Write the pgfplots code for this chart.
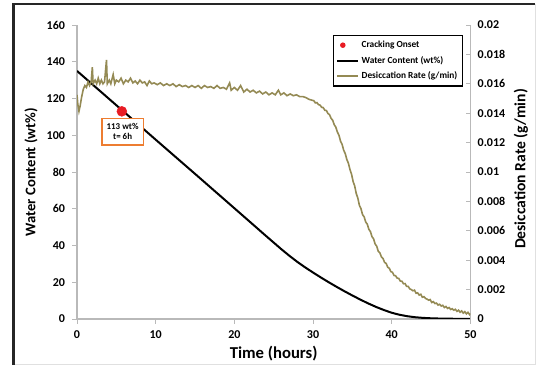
\documentclass[border=0pt]{standalone}
\usepackage{pgfplots}
\pgfplotsset{compat=1.18}
\usepackage{pgfplotstable}
\usepackage{fontspec}
\setmainfont{Carlito}
\definecolor{olivec}{RGB}{148,138,84}
\definecolor{axgray}{RGB}{185,185,185}
\definecolor{boxorange}{RGB}{237,125,49}
\definecolor{dotred}{RGB}{232,28,36}

\pgfplotsset{
  shortline/.style={legend image code/.code={\draw[##1] (0cm,0cm) -- (0.55cm,0cm);}},
  dotlegend/.style={legend image code/.code={\draw[##1] plot coordinates {(0.15cm,0cm)};}},
}

\pgfplotstableread{
t w
0 135
6 112.6
10 97.6
15 79
20 60.3
24 45.3
26 37.9
27 34.4
28 31.1
29 28.1
30 25.3
31 22.6
32 20.0
33 17.5
34 15.1
35 12.8
36 10.6
37 8.5
38 6.6
39 4.9
40 3.4
41 2.3
42 1.5
43 0.95
44 0.6
45 0.38
46 0.25
47 0.17
48 0.12
49 0.08
50 0.06
}\water

\pgfplotstableread{
t r
0.00 0.01525
0.10 0.01463
0.25 0.01413
0.40 0.01450
0.60 0.01513
0.80 0.01563
1.00 0.01588
1.20 0.01575
1.40 0.01613
1.60 0.01588
1.80 0.01613
1.95 0.01713
2.05 0.01600
2.30 0.01625
2.50 0.01600
2.70 0.01638
2.90 0.01600
3.10 0.01625
3.30 0.01600
3.50 0.01613
3.75 0.01763
3.85 0.01600
4.10 0.01625
4.30 0.01600
4.60 0.01663
4.80 0.01600
5.00 0.01625
5.30 0.01613
5.60 0.01638
5.90 0.01600
6.20 0.01625
6.50 0.01613
6.80 0.01638
7.10 0.01606
7.40 0.01619
7.70 0.01600
8.00 0.01625
8.30 0.01606
8.60 0.01613
8.90 0.01588
9.20 0.01619
9.50 0.01600
9.80 0.01606
10.2 0.01594
10.6 0.01606
11.0 0.01588
11.4 0.01600
11.8 0.01588
12.2 0.01600
12.6 0.01581
13.0 0.01594
13.4 0.01581
13.8 0.01588
14.2 0.01575
14.6 0.01588
15.0 0.01575
15.4 0.01588
15.8 0.01569
16.2 0.01588
16.6 0.01575
17.0 0.01581
17.4 0.01569
17.8 0.01588
18.2 0.01569
18.6 0.01575
19.0 0.01563
19.4 0.01606
19.6 0.01556
20.0 0.01575
20.4 0.01556
20.8 0.01588
21.2 0.01544
21.6 0.01563
22.0 0.01544
22.4 0.01556
22.8 0.01538
23.2 0.01550
23.6 0.01531
24.0 0.01544
24.4 0.01525
24.8 0.01538
25.2 0.01525
25.6 0.01556
25.9 0.01525
26.3 0.01538
26.7 0.01519
27.1 0.01531
27.5 0.01519
27.9 0.01525
28.3 0.01513
28.7 0.01513
29.1 0.01506
29.5 0.01494
29.9 0.01488
30.1 0.01485
30.3 0.01470
30.5 0.01472
30.7 0.01458
30.9 0.01455
31.1 0.01440
31.3 0.01438
31.5 0.01420
31.7 0.01418
31.9 0.01398
32.1 0.01390
32.3 0.01365
32.5 0.01352
32.7 0.01322
32.9 0.01305
33.1 0.01272
33.3 0.01250
33.5 0.01210
33.7 0.01188
33.9 0.01148
34.1 0.01125
34.3 0.01085
34.5 0.01060
34.7 0.01017
34.9 0.00985
35.1 0.00935
35.3 0.00905
35.5 0.00853
35.7 0.00822
35.9 0.00773
36.1 0.00750
36.3 0.00710
36.5 0.00695
36.7 0.00660
36.9 0.00645
37.1 0.00610
37.3 0.00595
37.5 0.00560
37.7 0.00545
37.9 0.00510
38.1 0.00495
38.3 0.00460
38.5 0.00450
38.7 0.00422
38.9 0.00412
39.1 0.00385
39.3 0.00378
39.5 0.00352
39.7 0.00345
39.9 0.00322
40.1 0.00318
40.3 0.00296
40.5 0.00294
40.7 0.00278
40.9 0.00276
41.1 0.00258
41.3 0.00257
41.5 0.00240
41.7 0.00241
41.9 0.00222
42.1 0.00222
42.3 0.00205
42.5 0.00200
42.7 0.00192
42.9 0.00196
43.1 0.00175
43.3 0.00178
43.5 0.00163
43.7 0.00168
43.9 0.00148
44.1 0.00152
44.3 0.00140
44.5 0.00135
44.7 0.00128
44.9 0.00132
45.1 0.00112
45.3 0.00118
45.5 0.00105
45.7 0.00108
45.9 0.00095
46.1 0.00100
46.3 0.00088
46.5 0.00093
46.7 0.00078
46.9 0.00085
47.1 0.00072
47.3 0.00078
47.5 0.00065
47.7 0.00070
47.9 0.00060
48.1 0.00066
48.3 0.00052
48.5 0.00060
48.7 0.00046
48.9 0.00055
49.1 0.00040
49.3 0.00050
49.5 0.00035
49.7 0.00045
49.9 0.00030
50.0 0.00038
}\rate

\begin{document}
\begin{tikzpicture}
\path[use as bounding box] (0,0) rectangle (405pt,274.5pt);
\draw[black!12, line width=0.6pt] (401.25pt,271.5pt) -- (401.25pt,1.1pt) -- (10.1pt,1.1pt);
\draw[black!85, line width=1.6pt] (10.1pt,1.1pt) -- (10.1pt,271.5pt) -- (401.25pt,271.5pt);

\pgfplotsset{
  common/.style={
    scale only axis, width=295pt, height=220.5pt,
    at={(57.75pt,35.25pt)}, anchor=south west,
    xmin=0, xmax=50,
    axis line style={-, axgray, line width=0.8pt},
    tick style={axgray, line width=0.7pt},
    major tick length=3.5pt,
    tick label style={font=\fontsize{9}{10}\selectfont\bfseries},
    /pgf/number format/assume math mode=true,
    label style={font=\fontsize{12.5}{14}\selectfont\bfseries},
  }
}

\begin{axis}[common,
  axis x line=bottom, axis y line=left,
  x axis line style={-}, y axis line style={-},
  tick align=outside,
  ymin=0, ymax=160,
  ytick={0,20,...,160},
  xtick={0,10,...,50},
  xlabel={Time (hours)},
  ylabel={Water Content (wt\%)},
  xlabel style={at={(axis description cs:0.5,-0.119)}, anchor=center},
  ylabel style={at={(axis description cs:-0.117,0.5)}, anchor=center,
    font=\fontsize{11}{13}\selectfont\bfseries},
  xticklabel style={yshift=-2pt},
  yticklabel style={xshift=-2pt},
]
\addplot[black, line width=1.5pt] table[x=t, y=w] {\water};
\addplot[only marks, mark=*, mark size=3.7pt, color=dotred] coordinates {(5.7,113)};
\node[draw=boxorange, line width=1pt, fill=white, align=center,
      font=\fontsize{6.7}{8}\selectfont\bfseries, inner sep=1.5pt,
      minimum width=31pt, minimum height=20pt]
  at (axis cs:5.8,102) {113 wt\%\\t= 6h};
\end{axis}

\begin{axis}[common,
  axis x line=none, axis y line=right,
  y axis line style={-},
  tick align=inside,
  ymin=0, ymax=0.02,
  ytick={0,0.002,0.004,0.006,0.008,0.01,0.012,0.014,0.016,0.018,0.02},
  scaled y ticks=false,
  yticklabel style={/pgf/number format/fixed, /pgf/number format/precision=3, xshift=2pt},
  ylabel={Desiccation Rate (g/min)},
  ylabel style={at={(axis description cs:1.1283,0.51)}, anchor=center, rotate=0,
    font=\fontsize{11.7}{13.5}\selectfont\bfseries},
  legend style={at={(axis description cs:0.982,0.966)}, anchor=north east,
    draw=black, line width=0.9pt, fill=white,
    font=\fontsize{7}{8.5}\selectfont\bfseries,
    cells={anchor=west}, inner sep=2pt, row sep=1pt},
  shortline,
]
\addlegendimage{dotlegend, only marks, mark=*, mark size=1.6pt, color=dotred}
\addlegendentry{Cracking Onset}
\addlegendimage{shortline, black, line width=1.5pt}
\addlegendentry{Water Content (wt\%)}
\addplot[olivec, line width=1.2pt] table[x=t, y=r] {\rate};
\addlegendentry{Desiccation Rate (g/min)}
\end{axis}
\end{tikzpicture}
\end{document}
